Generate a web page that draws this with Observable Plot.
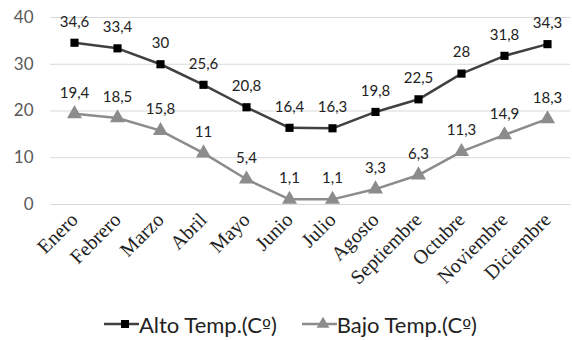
<!DOCTYPE html>
<html>
<head>
<meta charset="utf-8">
<script src="https://cdn.jsdelivr.net/npm/d3@7"></script>
<script src="https://cdn.jsdelivr.net/npm/@observablehq/plot@0.6"></script>
<style>
  body { margin: 0; background: #fff; }
  #chart { width: 572px; }
  .legend { display: flex; padding-left: 104px; gap: 25px; height: 38px; margin-top: 7px; align-items: center;
    font-family: Lato, "Open Sans", sans-serif; font-size: 22px; color: #222; }
  .legend > span { display: flex; align-items: center; }
  .legend .ord { font-family: "DejaVu Sans", sans-serif; font-size: 19px; }
</style>
</head>
<body>
<div id="chart"></div>
<script>
const meses = ["Enero","Febrero","Marzo","Abril","Mayo","Junio","Julio","Agosto","Septiembre","Octubre","Noviembre","Diciembre"];
const alto = [34.6, 33.4, 30, 25.6, 20.8, 16.4, 16.3, 19.8, 22.5, 28, 31.8, 34.3];
const bajo = [19.4, 18.5, 15.8, 11, 5.4, 1.1, 1.1, 3.3, 6.3, 11.3, 14.9, 18.3];
const yTicks = [0, 10, 20, 30, 40];
const series = [
  {name: ["Alto Temp.(C", "º", ")"], values: alto, line: "#404040", fill: "#000000", symbol: "square", r: 4.6},
  {name: ["Bajo Temp.(C", "º", ")"], values: bajo, line: "#8c8c8c", fill: "#8c8c8c", symbol: "triangle", r: 5.6}
];

const rows = series.flatMap(s => meses.map((m, i) => ({mes: m, valor: s.values[i], serie: s.name.join("")})));
const fmt = v => String(v).replace(".", ",");

const marks = [
  Plot.gridY(yTicks, {stroke: "#d9d9d9", strokeOpacity: 1, strokeWidth: 1}),
  Plot.axisY(yTicks, {tickSize: 0, tickPadding: 17, fontSize: 17, fill: "#595959", fontFamily: "Lato, 'Open Sans', sans-serif"}),
  Plot.axisX({tickSize: 0, tickRotate: -45, tickPadding: 12, fontSize: 20, fill: "#222", fontFamily: "'Liberation Serif', serif"})
];
for (const s of series) {
  const d = rows.filter(r => r.serie === s.name.join(""));
  marks.push(Plot.line(d, {x: "mes", y: "valor", stroke: s.line, strokeWidth: 2.5}));
  marks.push(Plot.dot(d, {x: "mes", y: "valor", symbol: s.symbol, r: s.r, fill: s.fill, stroke: "none"}));
  marks.push(Plot.text(d, {x: "mes", y: "valor", text: r => fmt(r.valor), dy: -21, fontSize: 15, fill: "#222", fontFamily: "Lato, 'Open Sans', sans-serif"}));
}

const chart = Plot.plot({
  width: 572,
  height: 298,
  marginLeft: 50,
  marginRight: 2,
  marginTop: 17,
  marginBottom: 94,
  x: {type: "point", domain: meses, padding: 0.5, label: null},
  y: {domain: [0, 40], label: null},
  marks
});
document.getElementById("chart").appendChild(chart);

// legend
const legend = d3.select("#chart").append("div").attr("class", "legend");
for (const s of series) {
  const item = legend.append("span");
  const svg = item.append("svg").attr("width", 35).attr("height", 14);
  svg.append("line").attr("x1", 0).attr("x2", 35).attr("y1", 7).attr("y2", 7).attr("stroke", s.line).attr("stroke-width", 2.5);
  svg.append("path").attr("transform", "translate(21,7)")
    .attr("d", d3.symbol(s.symbol === "square" ? d3.symbolSquare : d3.symbolTriangle, s.symbol === "square" ? 64 : 70)())
    .attr("fill", s.fill);
  const label = item.append("span");
  label.append("span").text(s.name[0]);
  label.append("span").attr("class", "ord").text(s.name[1]);
  label.append("span").text(s.name[2]);
}
</script>
</body>
</html>
